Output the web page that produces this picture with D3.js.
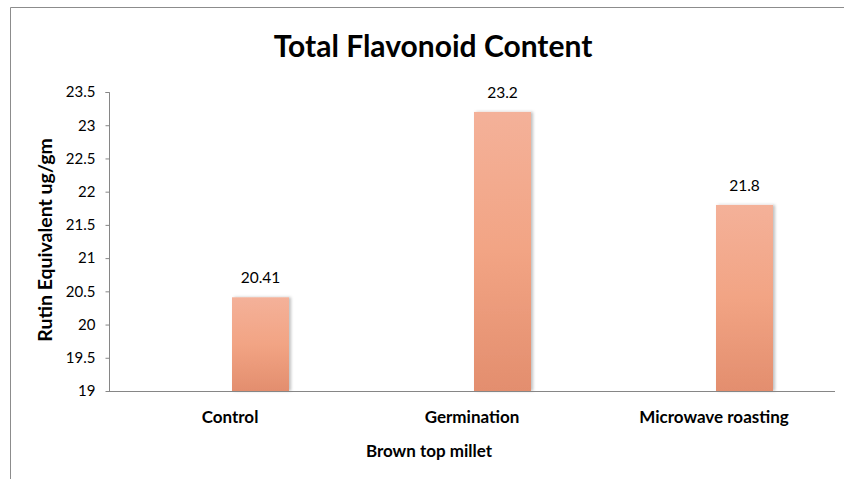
<!DOCTYPE html>
<html>
<head>
<meta charset="utf-8">
<script src="https://cdn.jsdelivr.net/npm/d3@7"></script>
<style>
  body { margin: 0; background: #fff; }
  text { font-family: Lato, "Open Sans", sans-serif; }
</style>
</head>
<body>
<div id="chart"></div>
<script>
// data
const categories = ['Control', 'Germination', 'Microwave roasting'];
const values = [20.41, 23.2, 21.8];
const yTicks = [19, 19.5, 20, 20.5, 21, 21.5, 22, 22.5, 23, 23.5];

/**
 * Draw the bar chart
 */
function createBarChart() {
  const WIDTH = 844;
  const HEIGHT = 479;
  const LEFT = 109;
  const RIGHT = 835;
  const TOP = 92;
  const BOTTOM = 391;
  const BAR_W = 57;

  const svg = d3.select('#chart').append('svg')
    .attr('width', WIDTH)
    .attr('height', HEIGHT);

  const defs = svg.append('defs');
  const grad = defs.append('linearGradient')
    .attr('id', 'barGrad')
    .attr('x1', 0).attr('y1', 0).attr('x2', 0).attr('y2', 1);
  grad.append('stop').attr('offset', '0%').attr('stop-color', '#f4b199');
  grad.append('stop').attr('offset', '50%').attr('stop-color', '#f2a484');
  grad.append('stop').attr('offset', '100%').attr('stop-color', '#e38e6e');

  const shadow = defs.append('filter').attr('id', 'shadow')
    .attr('x', '-20%').attr('y', '-5%').attr('width', '140%').attr('height', '110%');
  shadow.append('feDropShadow')
    .attr('dx', 2).attr('dy', 0).attr('stdDeviation', 1.5)
    .attr('flood-color', '#000').attr('flood-opacity', 0.25);

  // outer frame (only top and left edges visible)
  svg.append('path')
    .attr('d', `M10.5,${HEIGHT} V7.5 H${WIDTH}`)
    .attr('fill', 'none')
    .attr('stroke', '#8c8c8c');

  // scales
  const x = d3.scaleBand()
    .domain(categories)
    .range([LEFT, RIGHT]);
  const y = d3.scaleLinear()
    .domain([19, 23.5])
    .range([BOTTOM, TOP]);

  // y axis
  const yAxis = svg.append('g')
    .attr('transform', `translate(${LEFT + 0.5},0)`)
    .call(d3.axisLeft(y).tickValues(yTicks).tickSize(4).tickPadding(10)
      .tickFormat(d3.format('')));
  yAxis.select('.domain').attr('stroke', '#868686').attr('d', `M-4,${TOP + 0.5}H0V${BOTTOM + 0.5}`);
  yAxis.selectAll('.tick line').attr('stroke', '#868686');
  yAxis.selectAll('.tick text')
    .attr('fill', '#000')
    .style('font-size', '15px')
    .style('font-family', 'Lato, "Open Sans", sans-serif');

  // bars
  svg.selectAll('rect.bar')
    .data(values)
    .join('rect')
      .attr('class', 'bar')
      .attr('x', (d, i) => x(categories[i]) + x.bandwidth() / 2 + 2)
      .attr('y', d => y(d))
      .attr('width', BAR_W)
      .attr('height', d => BOTTOM - y(d))
      .attr('fill', 'url(#barGrad)')
      .attr('filter', 'url(#shadow)');

  // x axis line
  svg.append('line')
    .attr('x1', LEFT).attr('x2', RIGHT)
    .attr('y1', BOTTOM + 0.5).attr('y2', BOTTOM + 0.5)
    .attr('stroke', '#868686');

  // value labels
  svg.selectAll('text.val')
    .data(values)
    .join('text')
      .attr('class', 'val')
      .attr('x', (d, i) => x(categories[i]) + x.bandwidth() / 2 + 2 + BAR_W / 2)
      .attr('y', d => y(d) - 14)
      .attr('text-anchor', 'middle')
      .style('font-size', '15.5px')
      .text(d => d);

  // category labels
  svg.selectAll('text.cat')
    .data(categories)
    .join('text')
      .attr('class', 'cat')
      .attr('x', d => x(d) + x.bandwidth() / 2)
      .attr('y', 423)
      .attr('text-anchor', 'middle')
      .style('font-size', '17px')
      .style('font-weight', 'bold')
      .text(d => d);

  // axis titles
  svg.append('text')
    .attr('x', 429)
    .attr('y', 457)
    .attr('text-anchor', 'middle')
    .style('font-size', '17px')
    .style('font-weight', 'bold')
    .text('Brown top millet');

  svg.append('text')
    .attr('transform', 'translate(52,240) rotate(-90)')
    .attr('text-anchor', 'middle')
    .style('font-size', '19.5px')
    .style('font-weight', 'bold')
    .text('Rutin Equivalent ug/gm');

  // title
  svg.append('text')
    .attr('x', 433)
    .attr('y', 57)
    .attr('text-anchor', 'middle')
    .style('font-size', '30px')
    .style('font-weight', 'bold')
    .text('Total Flavonoid Content');
}

(function main() {
  createBarChart();
})();
</script>
</body>
</html>
